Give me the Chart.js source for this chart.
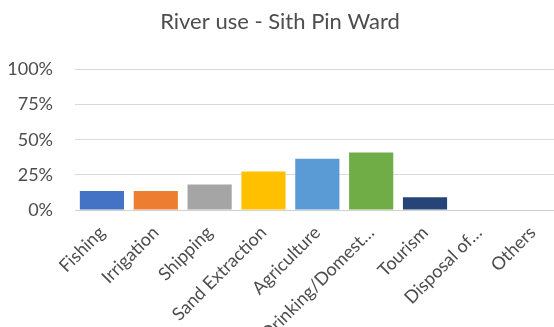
<!DOCTYPE html>
<html>
<head>
<meta charset="utf-8">
<script src="https://cdn.jsdelivr.net/npm/chart.js@4"></script>
<style>
    html, body { margin: 0; padding: 0; background: #fff; overflow: hidden; }
    #wrap { width: 560px; height: 327px; }
</style>
</head>
<body>
<div id="wrap"><canvas id="riverChart" width="560" height="327"></canvas></div>
<script>
// datos
const categorias = ['Fishing', 'Irrigation', 'Shipping', 'Sand Extraction', 'Agriculture',
    'Drinking/Domest\u2026', 'Tourism', 'Disposal of\u2026', 'Others'];
const porcentajes = [13.6, 13.6, 18.2, 27.3, 36.4, 40.9, 9.1, 0, 0];
const ticksY = [0, 25, 50, 75, 100];
const colores = ['#4472C4', '#ED7D31', '#A5A5A5', '#FFC000', '#5B9BD5',
    '#70AD47', '#264478', '#9E480E', '#636363'];

const fuente = 'Lato, "Open Sans", sans-serif';
const gris = '#4d4d4d';

const ctx = document.getElementById('riverChart').getContext('2d');
const riverChart = new Chart(ctx, {
    type: 'bar',
    data: {
        labels: categorias,
        datasets: [{
            label: 'River use',
            data: porcentajes,
            backgroundColor: colores,
            borderWidth: 0,
            categoryPercentage: 1,
            barPercentage: 0.82
        }]
    },
    options: {
        responsive: false,
        animation: false,
        layout: { padding: 0 },
        plugins: {
            legend: { display: false },
            tooltip: { enabled: false },
            title: {
                display: true,
                text: 'River use - Sith Pin Ward',
                color: gris,
                font: { family: fuente, size: 22, weight: 'normal' },
                padding: { top: 9, bottom: 34 }
            }
        },
        scales: {
            x: {
                grid: { display: false, drawTicks: false },
                border: { display: true, color: '#d0d0d0' },
                ticks: {
                    color: gris,
                    font: { family: fuente, size: 18 },
                    minRotation: 45,
                    maxRotation: 45,
                    autoSkip: false,
                    padding: 12
                },
                afterFit: scale => { scale.height = 117; }
            },
            y: {
                min: 0,
                max: 100,
                afterBuildTicks: scale => { scale.ticks = ticksY.map(v => ({ value: v })); },
                grid: { color: '#d9d9d9', drawTicks: false },
                border: { display: false },
                ticks: {
                    color: gris,
                    font: { family: fuente, size: 18 },
                    padding: 22,
                    callback: val => val + '%'
                },
                afterFit: scale => { scale.width = 75; }
            }
        }
    }
});
</script>
</body>
</html>
